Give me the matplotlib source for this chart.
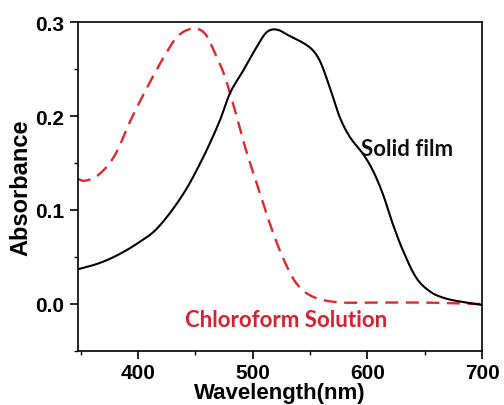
import numpy as np
import matplotlib.pyplot as plt
from matplotlib.ticker import MultipleLocator

#### DATA

film_wl = [347.5, 365, 382, 400, 417, 439.3, 456.7, 471.2, 480, 491.5, 503.2, 512, 520.6,
           530.8, 549.7, 558.4, 567, 575.8, 584.5, 596, 604.8, 613.5, 622.2, 631, 642.6,
           655, 668, 684, 700]
film_abs = [0.037, 0.043, 0.052, 0.065, 0.081, 0.117, 0.156, 0.195, 0.224, 0.248, 0.273, 0.289,
            0.292, 0.286, 0.273, 0.259, 0.231, 0.199, 0.178, 0.160, 0.142, 0.117, 0.085, 0.057,
            0.028, 0.013, 0.006, 0.002, -0.001]

sol_wl = [347.5, 353, 365, 379.5, 394, 408.5, 423, 434.6, 447.7, 458, 466.6, 475.3, 484,
          492.8, 504, 515, 526, 538, 552, 573, 600, 650, 700]
sol_abs = [0.133, 0.131, 0.137, 0.158, 0.197, 0.232, 0.264, 0.285, 0.293, 0.288, 0.268, 0.243,
           0.208, 0.169, 0.126, 0.085, 0.050, 0.022, 0.008, 0.002, 0.0015, 0.0015, 0.0]

xticks = [400, 500, 600, 700]
yticks = [0.0, 0.1, 0.2, 0.3]


def smooth(x, y, n=600):
	# cubic Hermite through the read points (central-difference slopes), only to draw a smooth line
	x = np.asarray(x, float)
	y = np.asarray(y, float)
	h = np.diff(x)
	m = np.zeros_like(y)
	m[1:-1] = (y[2:] - y[:-2]) / (x[2:] - x[:-2])
	m[0] = (y[1] - y[0]) / h[0]
	m[-1] = (y[-1] - y[-2]) / h[-1]
	xs = np.linspace(x[0], x[-1], n)
	k = np.clip(np.searchsorted(x, xs) - 1, 0, len(x) - 2)
	t = (xs - x[k]) / h[k]
	ys = (2*t**3 - 3*t**2 + 1)*y[k] + (t**3 - 2*t**2 + t)*h[k]*m[k] \
		+ (-2*t**3 + 3*t**2)*y[k+1] + (t**3 - t**2)*h[k]*m[k+1]
	return xs, ys


#### PLOT

plt.rcParams['font.family'] = ['Liberation Sans', 'DejaVu Sans']
plt.rcParams['font.weight'] = 'bold'

fg = plt.figure(figsize=(5.04, 4.06), dpi=100)
ax = fg.add_axes([78/504, 1-352/406, (482-78)/504, (352-23)/406])

xs, ys = smooth(sol_wl, sol_abs)
ax.plot(xs, ys, color='#e0282e', ls=(0, (5.5, 3.2)), lw=1.7)
xs, ys = smooth(film_wl, film_abs)
ax.plot(xs, ys, color='black', lw=1.5)

ax.set_xlim(347.5, 700)
ax.set_ylim(-0.05, 0.3)
ax.set_xticks(xticks)
ax.set_yticks(yticks)
ax.xaxis.set_minor_locator(MultipleLocator(50))
ax.yaxis.set_minor_locator(MultipleLocator(0.05))
ax.set_yticklabels(['%.1f' % v for v in yticks])

ax.tick_params(which='major', direction='out', length=6, width=1.2, labelsize=15, pad=4)
ax.tick_params(axis='x', which='major', pad=2.5)
ax.tick_params(which='minor', direction='out', length=3, width=1.0)
for sp in ax.spines.values():
	sp.set_linewidth(1.2)

ax.set_xlabel('Wavelength(nm)', fontsize=16, fontweight='bold', labelpad=0)
ax.set_ylabel('Absorbance', fontsize=17, fontweight='bold', labelpad=2)

ax.text(594.7, 0.165, 'Solid film', fontsize=16, fontweight='bold', family=['Lato', 'DejaVu Sans'],
        color='#111111', va='center', ha='left')
ax.text(440.7, -0.016, 'Chloroform Solution', fontsize=16, fontweight='bold', family=['Lato', 'DejaVu Sans'],
        color='#d8202e', va='center', ha='left')

plt.savefig('out.png', dpi=100)
